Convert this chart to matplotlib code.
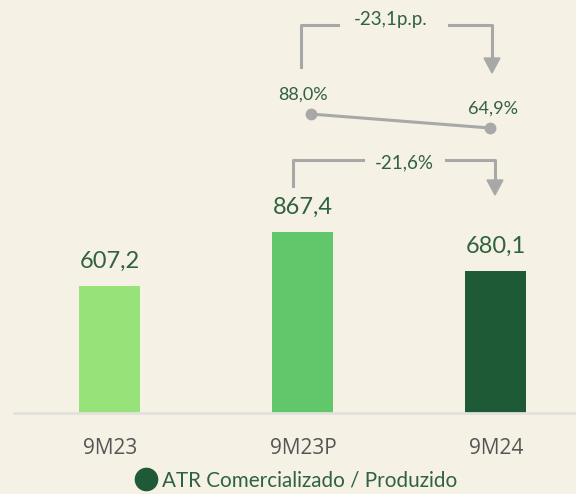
import matplotlib.pyplot as plt
from matplotlib.lines import Line2D

# dados
categorias = ['9M23', '9M23P', '9M24']
valores = [607.2, 867.4, 680.1]
rotulos_valores = ['607,2', '867,4', '680,1']
cores_barras = ['#98E27A', '#62C66A', '#1F5A37']
pct = [88.0, 64.9]
rotulos_pct = ['88,0%', '64,9%']
var_pp = '-23,1p.p.'
var_pct = '-21,6%'
legenda = 'ATR Comercializado / Produzido'

plt.rcParams['font.family'] = ['Lato', 'DejaVu Sans']
fundo = '#F5F1E4'
verde_txt = '#2F6240'
cinza = '#A8A8A8'

W, H = 576, 494
fig = plt.figure(figsize=(W / 100, H / 100), dpi=100, facecolor=fundo)


def px(x, y):
    # pixel (a partir do topo) -> fração da figura
    return x / W, 1 - y / H


base = 413
ax = fig.add_axes([14 / W, (H - base) / H, 1 - 14 / W, base / H])
ax.set_facecolor('none')
xs = range(len(categorias))
ax.bar(xs, valores, width=0.316, color=cores_barras)
for x, v, r in zip(xs, valores, rotulos_valores):
    ax.text(x, v + 85, r, ha='center', va='baseline', fontsize=17, color=verde_txt)
ax.set_xlim(-0.497, 2.415)
ax.set_ylim(0, 413 / 0.209)
for s in ['top', 'right', 'left']:
    ax.spines[s].set_visible(False)
ax.spines['bottom'].set_color('#E3E1DB')
ax.spines['bottom'].set_linewidth(2)
ax.set_yticks([])
ax.set_xticks(list(xs))
ax.set_xticklabels(categorias, fontsize=15, color='#555555', family=['Open Sans', 'DejaVu Sans'])
ax.tick_params(axis='x', length=0, pad=18)

# linha percentual em eixo secundário
ax2 = ax.twinx()
ax2.set_ylim(-405, 276)
ax2.axis('off')
xl = [1.04, 1.97]
ax2.plot(xl, pct, color=cinza, lw=2.2, marker='o', ms=7.5)
for x, v, r, dx in zip(xl, pct, rotulos_pct, [-0.041, 0.016]):
    ax2.text(x + dx, v + 24, r, ha='center', va='baseline', fontsize=13, color=verde_txt)


def colchete(x1, y_ini, y_top, x_esq, x_dir, x2, y_tip, texto, tx, ty):
    fig.add_artist(Line2D(*zip(px(x1, y_ini), px(x1, y_top), px(x_esq, y_top)),
                          color=cinza, lw=2.2))
    fig.add_artist(Line2D(*zip(px(x_dir, y_top), px(x2, y_top), px(x2, y_tip - 12)),
                          color=cinza, lw=2.2))
    fig.add_artist(plt.Polygon([px(x2 - 8, y_tip - 15), px(x2 + 8, y_tip - 15), px(x2, y_tip)],
                               closed=True, color=cinza, transform=fig.transFigure))
    fig.text(*px(tx, ty), texto, ha='center', va='baseline', fontsize=13.5,
             color=verde_txt)


colchete(301, 67, 25, 338, 449, 492, 73, var_pp, 391, 25)
colchete(293, 186, 160, 363, 446, 495, 195, var_pct, 404.5, 168)

# legenda
fig.add_artist(Line2D([146 / W], [1 - 479 / H], marker='o', ms=16, color='#1F5A37', lw=0))
fig.text(*px(162, 480), legenda, ha='left', va='center', fontsize=14.9, color=verde_txt)

fig.savefig('out.png', dpi=100, facecolor=fundo)
